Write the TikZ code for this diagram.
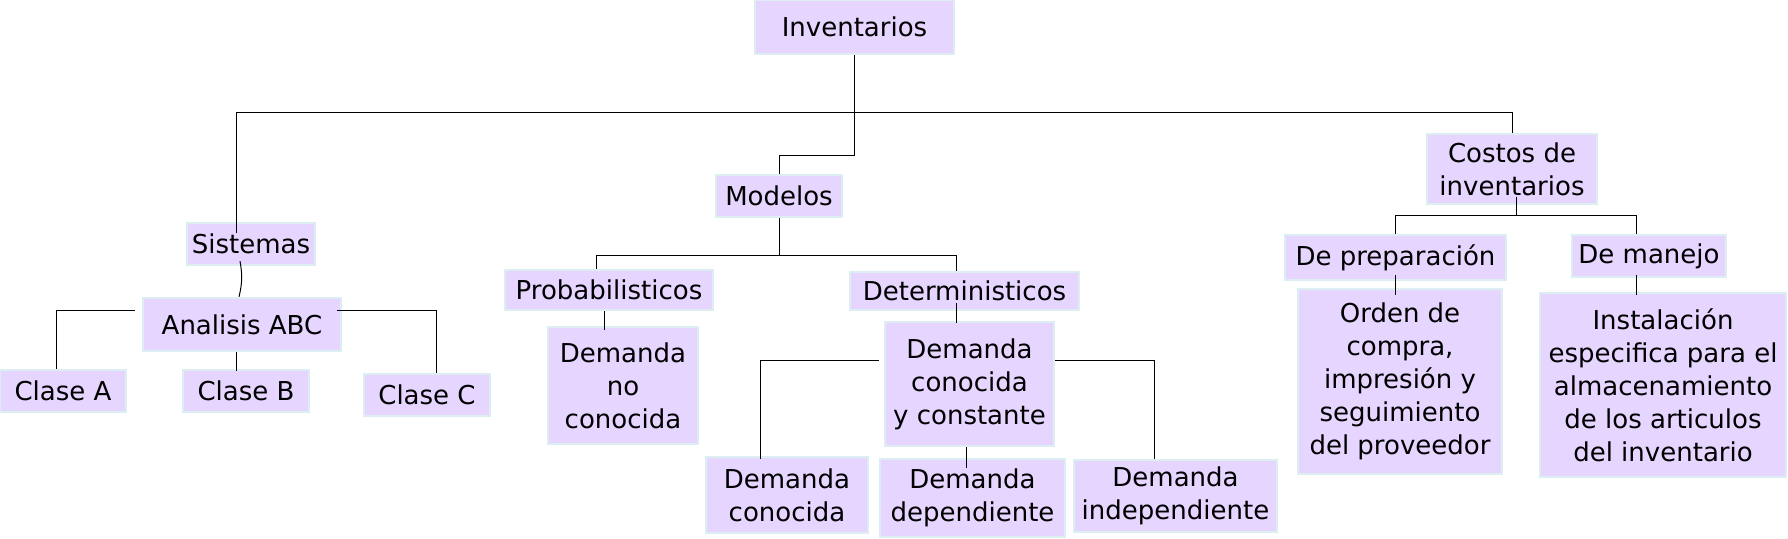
\documentclass[tikz,border=0pt]{standalone}
\usepackage{fontspec}
\setmainfont{DejaVu Sans}
\usetikzlibrary{calc}
\definecolor{boxfill}{HTML}{E5D5FF}
\definecolor{boxline}{HTML}{DCEEF2}
\begin{document}
\begin{tikzpicture}[x=0.5pt,y=-0.5pt,
    box/.style={draw=boxline,line width=1.2pt,fill=boxfill,inner sep=0pt,align=center,
      font=\fontsize{13}{16.5}\selectfont},
    link/.style={draw=black,line width=0.5pt}]
    \useasboundingbox (0,0) rectangle (1788,539);
    % top
    \node[box,minimum width=99.5pt,minimum height=27pt] (inv) at (854.5,27) {Inventarios};
    \node[box,minimum width=63pt,minimum height=21pt] (mod) at (779,196) {Modelos};
    \node[box,minimum width=85pt,minimum height=35pt] (cost) at (1512,169) {Costos de\\inventarios};
    % sistemas
    \node[box,minimum width=64pt,minimum height=21pt] (sist) at (251,244) {Sistemas};
    \node[box,minimum width=99pt,minimum height=26.5pt] (abc) at (242,324.5) {Analisis ABC};
    \node[box,minimum width=63pt,minimum height=21pt] (clA) at (63,391) {Clase A};
    \node[box,minimum width=63pt,minimum height=21pt] (clB) at (246,391) {Clase B};
    \node[box,minimum width=63pt,minimum height=21pt] (clC) at (427,395) {Clase C};
    % modelos
    \node[box,minimum width=104pt,minimum height=20pt] (prob) at (609,290) {Probabilisticos};
    \node[box,minimum width=114.5pt,minimum height=19pt] (det) at (964.5,291) {Deterministicos};
    \node[box,minimum width=75pt,minimum height=58.5pt] (dnc) at (623,385.5) {Demanda\\no\\conocida};
    \node[box,minimum width=84.5pt,minimum height=62pt] (dcc) at (969.5,384) {Demanda\\conocida\\y constante};
    \node[box,minimum width=81pt,minimum height=38pt] (dc) at (787,495) {Demanda\\conocida};
    \node[box,minimum width=92.5pt,minimum height=39pt] (dd) at (972.5,498) {Demanda\\dependiente};
    \node[box,minimum width=101.5pt,minimum height=36pt] (di) at (1175.5,496) {Demanda\\independiente};
    % costos
    \node[box,minimum width=110.5pt,minimum height=22.5pt] (prep) at (1395.5,257.5) {De preparación};
    \node[box,minimum width=77pt,minimum height=21pt] (man) at (1649,256) {De manejo};
    \node[box,minimum width=102pt,minimum height=92.5pt] (ord) at (1400,381.5)
      {Orden de\\compra,\\impresión y\\seguimiento\\del proveedor};
    \node[box,minimum width=123pt,minimum height=92pt] (inst) at (1663,385)
      {Instalación\\especifica para el\\almacenamiento\\de los articulos\\del inventario};
    % links
    \draw[link] (inv.south) -- ++(0,100) -| (mod.north);
    \draw[link] ($(sist.north)+(-15,11)$) |- ($(cost.north)+(0,-20)$) -- (cost.north);
    \draw[link] ($(sist.south)+(-11,-5)$) to[bend left=12] ($(abc.north)+(-3,0)$);
    \draw[link] ($(abc.west)+(-7,-13.5)$) -| ($(clA.north)+(-7,0)$);
    \draw[link] ($(abc.east)+(-5,-13.5)$) -| ($(clC.north)+(9,0)$);
    \draw[link] ($(abc.south)+(-6,0)$) -- ($(abc.south)+(-6,19)$);
    \draw[link] (mod.south) -- ++(0,37) coordinate (mj);
    \draw[link] ($(prob.north)+(-13,0)$) |- (mj) -| ($(det.north)+(-8,0)$);
    \draw[link] ($(prob.south)+(-5,0)$) -- ($(prob.south)+(-5,19)$);
    \draw[link] ($(det.south)+(-8,-8)$) -- ($(det.south)+(-8,12)$);
    \draw[link] ($(dcc.west)+(-5,-23)$) -| ($(dc.north)+(-27,3)$);
    \draw[link] ($(dcc.east)+(0,-23)$) -| ($(di.north)+(-21,0)$);
    \draw[link] ($(dcc.south)+(-3,0)$) -- ++(0,21);
    \draw[link] ($(cost.south)+(4,-8)$) -- ++(0,18) coordinate (cj);
    \draw[link] (prep.north) |- (cj) -| ($(man.north)+(-13,0)$);
    \draw[link] ($(prep.south)+(0,-6)$) -- ++(0,20);
    \draw[link] ($(man.south)+(-13,-3)$) -- ++(0,20);
\end{tikzpicture}
\end{document}
